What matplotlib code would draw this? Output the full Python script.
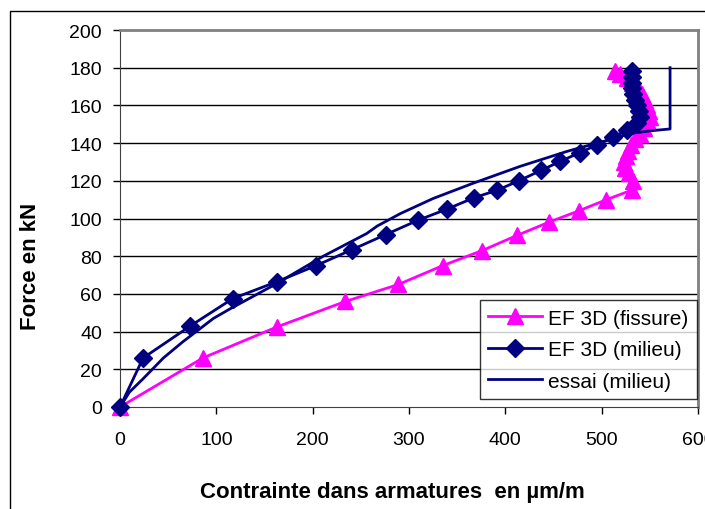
import matplotlib
matplotlib.use('Agg')
import matplotlib.pyplot as plt
from matplotlib.patches import Rectangle

plt.rcParams['font.family'] = ['Liberation Sans', 'DejaVu Sans']

# EF 3D (fissure)
fissure_x = [0, 86, 163, 234, 289, 335, 376, 412, 445, 476, 505, 531, 533, 528, 524, 523, 525,
             527, 530, 535, 540, 544, 548, 550, 549, 547, 545, 542, 538, 532, 526, 519, 514]
fissure_y = [0, 26, 42.5, 56, 65, 75, 83, 91, 98, 104, 110, 115, 120, 124, 127, 130, 133,
             136, 139, 142, 145, 148, 151, 154, 157, 160, 163, 166, 169, 172, 174.5, 176.5, 178]

# EF 3D (milieu)
milieu_x = [0, 24, 73, 117, 163, 203.5, 241, 276, 309, 339.5, 367.5, 391.5, 414, 437, 457,
            477.5, 495, 512, 526, 537, 540, 539, 537, 535, 533, 532, 531, 531, 531]
milieu_y = [0, 26, 43, 57.5, 66.5, 75, 83.5, 91.5, 99, 105, 111, 115, 120, 125.5, 130.3,
            135, 139, 143, 147, 150.5, 154, 157, 160, 163, 166, 169, 172, 175, 178]

# essai (milieu)
essai_x = [0, 10, 24, 45, 65, 97, 114, 161, 211, 256, 267, 291, 325, 366, 415, 464, 488,
           510, 529, 550, 571, 571, 571]
essai_y = [0, 8, 15, 26, 34.5, 47, 52, 65, 80, 92, 96, 102.6, 110.6, 118.6, 127.6, 135.6, 139,
           142, 145, 146.5, 147.5, 170, 180]

xticks = [0, 100, 200, 300, 400, 500, 600]
yticks = [0, 20, 40, 60, 80, 100, 120, 140, 160, 180, 200]

fig = plt.figure(figsize=(7.05, 5.10), dpi=100)
ax = fig.add_axes([120/705, 102/510, 578/705, 377/510])

# cadre exterieur du graphique
fig.add_artist(Rectangle((10/705, -0.1), 1.2, 1.1 - 12/510, transform=fig.transFigure,
                         fill=False, edgecolor='black', linewidth=1.0))

for v in yticks[1:-1]:
    ax.axhline(v, color='black', linewidth=1.0, zorder=1)

ax.plot(fissure_x, fissure_y, color='#FF00FF', linewidth=2, marker='^', markersize=11,
        label='EF 3D (fissure)', zorder=3, clip_on=False)
ax.plot(milieu_x, milieu_y, color='#000080', linewidth=2, marker='D', markersize=9,
        label='EF 3D (milieu)', zorder=4, clip_on=False)
ax.plot(essai_x, essai_y, color='#000080', linewidth=2, label='essai (milieu)', zorder=5)

ax.set_xlim(0, 600)
ax.set_ylim(0, 200)
ax.set_xticks(xticks)
ax.set_yticks(yticks)
ax.tick_params(axis='both', direction='out', length=5, width=1, labelsize=14)
ax.tick_params(axis='y', pad=8)
ax.tick_params(axis='x', pad=12)

for s in ['top', 'right']:
    ax.spines[s].set_color('#808080')
    ax.spines[s].set_linewidth(2)
ax.spines['left'].set_color('#404040')
ax.spines['bottom'].set_color('#404040')

ax.set_xlabel('Contrainte dans armatures  en µm/m', fontsize=16, fontweight='bold', va='center')
ax.set_ylabel('Force en kN', fontsize=16, fontweight='bold', va='center')
ax.xaxis.set_label_coords((392 - 120) / 578, -(493 - 408) / 377)
ax.yaxis.set_label_coords((30 - 120) / 578, (408 - 266) / 377)

leg = ax.legend(loc='lower right', bbox_to_anchor=(0.998, 0.021), fontsize=15, frameon=True,
                fancybox=False, edgecolor='black', handlelength=2.6, handletextpad=0.3,
                borderpad=0.4, labelspacing=0.6, borderaxespad=0)
leg.get_frame().set_linewidth(1.0)

fig.savefig('out.png', dpi=100)
